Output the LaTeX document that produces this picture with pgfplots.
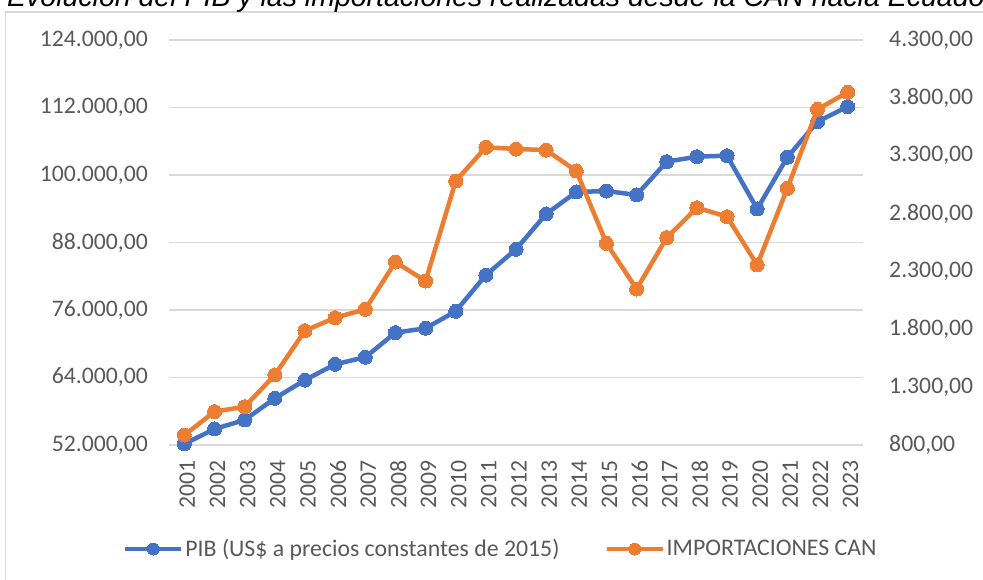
\documentclass[border=0pt]{standalone}
\usepackage{pgfplots}
\pgfplotsset{compat=1.18}
\usepackage{fontspec}
\setmainfont{Carlito}
\newfontfamily\titlefont{Liberation Sans}
\definecolor{pibblue}{HTML}{4472C4}
\definecolor{canorange}{HTML}{ED7D31}
\definecolor{ticktxt}{HTML}{595959}
\definecolor{gridgray}{HTML}{D9D9D9}
\definecolor{framegray}{HTML}{D9D9D9}
\begin{document}
\begin{tikzpicture}[x=1pt,y=1pt]
\useasboundingbox (0,0) rectangle (983,579);
\draw[framegray, line width=1.3pt] (5.5,-20) -- (5.5,567) -- (1000,567);
\node[anchor=base west, font=\titlefont\fontsize{28.5}{32}\selectfont\itshape, inner sep=0pt] at (7,572) {Evolución del PIB y las importaciones realizadas desde la CAN hacia Ecuador};
\pgfplotsset{
  every axis/.append style={
    scale only axis, width=693.4pt, height=405pt,
    at={(169.3pt,134pt)}, anchor=south west,
    xmin=2000.5, xmax=2023.5,
    font=\fontsize{23.7}{27}\selectfont,
    tick label style={color=ticktxt},
    /pgf/number format/fixed,
    /pgf/number format/fixed zerofill,
    /pgf/number format/precision=2,
    /pgf/number format/1000 sep={.},
    /pgf/number format/dec sep={,},
    /pgf/number format/assume math mode=true,
  },
}
\begin{axis}[
  ymin=52000, ymax=124000,
  ytick={52000,64000,76000,88000,100000,112000,124000},
  axis y line*=left, axis x line*=bottom,
  axis line style={draw=none},
  ymajorgrids, grid style={gridgray, line width=1.3pt},
  major tick length=0pt,
  yticklabel style={xshift=-18pt},
  xtick={2001,2002,2003,2004,2005,2006,2007,2008,2009,2010,2011,2012,2013,2014,2015,2016,2017,2018,2019,2020,2021,2022,2023},
  xticklabels={2001,2002,2003,2004,2005,2006,2007,2008,2009,2010,2011,2012,2013,2014,2015,2016,2017,2018,2019,2020,2021,2022,2023},
  xticklabel style={xshift=3pt, yshift=-12pt, rotate=90, anchor=east},
  scaled y ticks=false,
  clip=false,
]
\addplot[pibblue, line width=4.5pt, mark=*, mark size=7pt, mark options={fill=pibblue, draw=pibblue, line width=0pt}] coordinates {
(2001,52200) (2002,54850) (2003,56450) (2004,60300) (2005,63550) (2006,66350) (2007,67600) (2008,71970) (2009,72750) (2010,75770) (2011,82200) (2012,86800) (2013,93070) (2014,96980) (2015,97150) (2016,96450) (2017,102370) (2018,103260) (2019,103440) (2020,93960) (2021,103150) (2022,109480) (2023,112150)
};
\end{axis}
\begin{axis}[
  ymin=800, ymax=4300,
  ytick={800,1300,1800,2300,2800,3300,3800,4300},
  axis y line*=right, axis x line=none,
  axis line style={draw=none},
  major tick length=0pt,
  yticklabel style={xshift=23pt},
  xtick=\empty,
  scaled y ticks=false,
  clip=false,
  legend columns=2,
  legend style={at={(-0.0668,-0.2568)}, anchor=west, draw=none, fill=none, inner sep=0pt,
    font=\fontsize{23.8}{27}\selectfont, text=ticktxt,
    nodes={inner xsep=2pt, inner ysep=2pt},
    column sep=0pt, /tikz/every even column/.append style={column sep=43pt}},
  legend image code/.code={\draw[#1, mark repeat=2, mark phase=2] plot coordinates {(0pt,0pt) (28pt,0pt) (56pt,0pt)};},
]
\addlegendimage{pibblue, line width=4.2pt, mark=*, mark size=6pt, mark options={fill=pibblue, draw=pibblue, line width=0pt}}
\addlegendentry{PIB (US\$ a precios constantes de 2015)}
\addlegendimage{canorange, line width=4.2pt, mark=*, mark size=6pt, mark options={fill=canorange, draw=canorange, line width=0pt}}
\addlegendentry{IMPORTACIONES CAN}
\addplot[canorange, line width=4.5pt, mark=*, mark size=7pt, mark options={fill=canorange, draw=canorange, line width=0pt}, forget plot] coordinates {
(2001,886) (2002,1088) (2003,1131) (2004,1405) (2005,1788) (2006,1900) (2007,1973) (2008,2381) (2009,2217) (2010,3081) (2011,3373) (2012,3358) (2013,3349) (2014,3168) (2015,2543) (2016,2148) (2017,2592) (2018,2851) (2019,2773) (2020,2356) (2021,3018) (2022,3701) (2023,3848)
};
\end{axis}
\end{tikzpicture}
\end{document}
